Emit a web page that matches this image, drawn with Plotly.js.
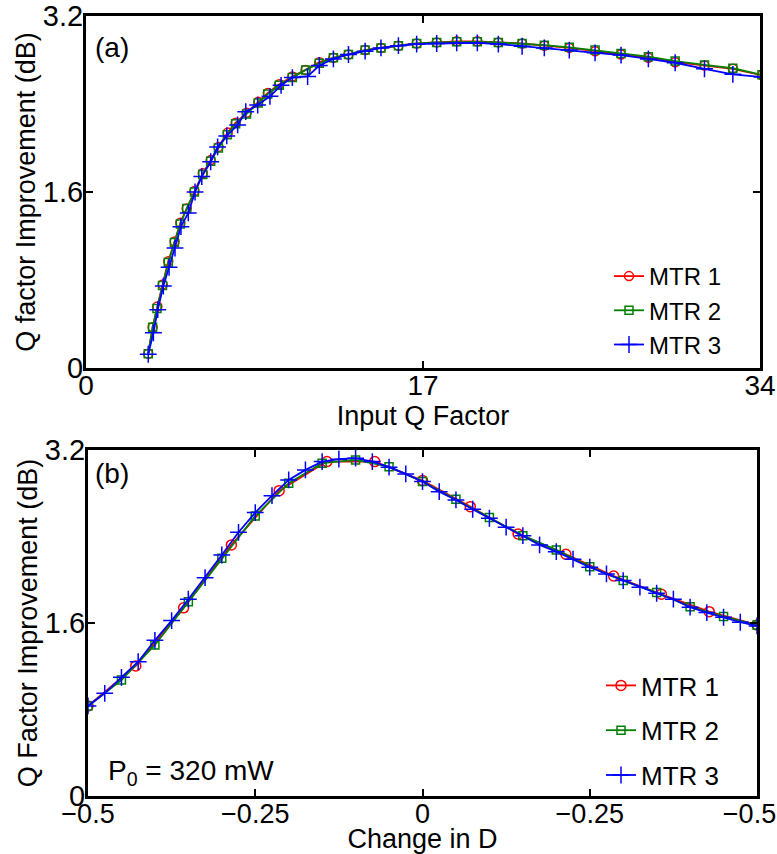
<!DOCTYPE html>
<html>
<head>
<meta charset="utf-8">
<script src="https://cdn.plot.ly/plotly-3.0.1.min.js"></script>
<style>html,body{margin:0;padding:0;background:#fff;}#chart{width:777px;height:854px;}</style>
</head>
<body>
<div id="chart"></div>
<script>
// ---------- Panel (a): Q factor improvement vs input Q factor ----------
var a_mtr1_x = [3.14, 3.36, 3.6, 3.87, 4.15, 4.47, 4.76, 5.08, 5.47, 5.89, 6.29, 6.68, 7.15, 7.55, 8.1, 8.69, 9.17, 9.75, 10.41, 11.08, 11.77, 12.48, 13.24, 14.08, 14.88, 15.76, 16.68, 17.69, 18.7, 19.74, 20.8, 22.0, 23.12, 24.38, 25.68, 26.99, 28.37, 29.72, 31.2, 32.63, 34.1];
var a_mtr1_y = [0.13, 0.37, 0.56, 0.76, 0.97, 1.15, 1.32, 1.45, 1.61, 1.77, 1.89, 2.01, 2.14, 2.23, 2.32, 2.42, 2.50, 2.58, 2.65, 2.71, 2.78, 2.82, 2.85, 2.89, 2.91, 2.93, 2.95, 2.96, 2.97, 2.97, 2.96, 2.95, 2.93, 2.91, 2.88, 2.85, 2.82, 2.78, 2.75, 2.72, 2.66];
var a_mtr2_x = [3.14, 3.36, 3.58, 3.86, 4.15, 4.46, 4.76, 5.08, 5.47, 5.89, 6.29, 6.68, 7.13, 7.55, 8.1, 8.69, 9.17, 9.75, 10.41, 11.08, 11.77, 12.48, 13.24, 14.08, 14.88, 15.76, 16.68, 17.69, 18.7, 19.74, 20.8, 22.0, 23.12, 24.38, 25.68, 26.99, 28.37, 29.72, 31.2, 32.63, 34.1];
var a_mtr2_y = [0.13, 0.37, 0.54, 0.75, 0.96, 1.14, 1.31, 1.45, 1.60, 1.76, 1.88, 2.00, 2.12, 2.22, 2.31, 2.41, 2.49, 2.57, 2.64, 2.71, 2.77, 2.82, 2.85, 2.89, 2.91, 2.93, 2.95, 2.96, 2.965, 2.965, 2.96, 2.95, 2.935, 2.915, 2.89, 2.86, 2.83, 2.79, 2.755, 2.725, 2.665];
var a_mtr3_x = [3.14, 3.4, 3.62, 3.9, 4.19, 4.49, 4.79, 5.16, 5.5, 5.84, 6.29, 6.64, 7.1, 7.65, 8.06, 8.66, 9.28, 9.84, 10.41, 11.18, 11.77, 12.48, 13.24, 14.08, 14.88, 15.76, 16.68, 17.69, 18.7, 19.74, 20.8, 22.0, 23.12, 24.38, 25.68, 26.99, 28.37, 29.72, 31.2, 32.63, 34.1];
var a_mtr3_y = [0.125, 0.32, 0.53, 0.745, 0.915, 1.09, 1.285, 1.41, 1.6, 1.74, 1.875, 2.01, 2.11, 2.21, 2.33, 2.39, 2.47, 2.57, 2.64, 2.65, 2.75, 2.81, 2.85, 2.88, 2.91, 2.93, 2.945, 2.95, 2.955, 2.955, 2.945, 2.925, 2.91, 2.89, 2.865, 2.845, 2.81, 2.775, 2.72, 2.67, 2.645];

// ---------- Panel (b): Q factor improvement vs change in D ----------
var b_mtr1_x = [-0.5, -0.4286, -0.3571, -0.2857, -0.2143, -0.1429, -0.0714, 0, 0.0714, 0.1429, 0.2143, 0.2857, 0.3571, 0.4286, 0.5];
var b_mtr1_y = [0.833, 1.203, 1.74, 2.322, 2.824, 3.093, 3.093, 2.917, 2.676, 2.424, 2.236, 2.035, 1.866, 1.705, 1.582];
var b_mtr2_x = [-0.5, -0.45, -0.4, -0.35, -0.3, -0.25, -0.2, -0.15, -0.1, -0.05, 0, 0.05, 0.1, 0.15, 0.2, 0.25, 0.3, 0.35, 0.4, 0.45, 0.5];
var b_mtr2_y = [0.833, 1.073, 1.397, 1.797, 2.199, 2.59, 2.893, 3.078, 3.108, 3.046, 2.908, 2.745, 2.575, 2.408, 2.276, 2.121, 1.992, 1.881, 1.751, 1.659, 1.582];
var b_mtr3_x = [-0.5, -0.475, -0.45, -0.425, -0.4, -0.375, -0.35, -0.325, -0.3, -0.275, -0.25, -0.225, -0.2, -0.175, -0.15, -0.125, -0.1, -0.075, -0.05, -0.025, 0, 0.025, 0.05, 0.075, 0.1, 0.125, 0.15, 0.175, 0.2, 0.225, 0.25, 0.275, 0.3, 0.325, 0.35, 0.375, 0.4, 0.425, 0.45, 0.475, 0.5];
var b_mtr3_y = [0.833, 0.95, 1.098, 1.242, 1.44, 1.622, 1.82, 2.019, 2.229, 2.439, 2.621, 2.778, 2.923, 3.016, 3.093, 3.115, 3.124, 3.093, 3.041, 2.979, 2.908, 2.815, 2.738, 2.652, 2.569, 2.486, 2.408, 2.322, 2.26, 2.19, 2.116, 2.054, 1.992, 1.931, 1.875, 1.82, 1.746, 1.696, 1.653, 1.607, 1.573];

var a_xticks = [0, 17, 34];
var y_ticks = [0, 1.6, 3.2];
var y_ticktext = ['0', '1.6', '3.2'];
var b_xtickvals = [-0.5, -0.25, 0, 0.25, 0.5];
var b_xticktext = ['\u22120.5', '\u22120.25', '0', '\u22120.25', '\u22120.5\u00a0\u00a0'];
var seriesNames = ['MTR 1', 'MTR 2', 'MTR 3'];

var RED = '#ff0000', GREEN = '#008000', BLUE = '#0000ff';
var FONT = 'Liberation Sans, Arial, sans-serif';

function mk(x, y, name, color, symbol, size, xa, ya, leg, grp) {
  return {
    x: x, y: y, name: name, type: 'scatter', mode: 'lines+markers',
    xaxis: xa, yaxis: ya, legend: leg, legendgroup: grp,
    line: {color: color, width: 1.8},
    marker: {symbol: symbol, size: size, color: color, line: {color: color, width: 1.5}}
  };
}

var traces = [
  mk(a_mtr1_x, a_mtr1_y, seriesNames[0], RED, 'circle-open', 9, 'x', 'y', 'legend', 'a1'),
  mk(a_mtr2_x, a_mtr2_y, seriesNames[1], GREEN, 'square-open', 8, 'x', 'y', 'legend', 'a2'),
  mk(a_mtr3_x, a_mtr3_y, seriesNames[2], BLUE, 'cross-thin-open', 12, 'x', 'y', 'legend', 'a3'),
  mk(b_mtr1_x, b_mtr1_y, seriesNames[0], RED, 'circle-open', 10, 'x2', 'y2', 'legend2', 'b1'),
  mk(b_mtr2_x, b_mtr2_y, seriesNames[1], GREEN, 'square-open', 8, 'x2', 'y2', 'legend2', 'b2'),
  mk(b_mtr3_x, b_mtr3_y, seriesNames[2], BLUE, 'cross-thin-open', 12, 'x2', 'y2', 'legend2', 'b3')
];

var W = 777, H = 854;
function px(v) { return v / W; }
function py(v) { return 1 - v / H; }

var axisBase = {
  showline: true, linewidth: 3, linecolor: '#000', mirror: 'ticks',
  ticks: 'inside', ticklen: 7, tickwidth: 2, tickcolor: '#000',
  showgrid: false, zeroline: false, automargin: false, fixedrange: true,
  ticklabeloverflow: 'allow'
};
function ax(extra) { return Object.assign({}, axisBase, extra); }

var layout = {
  width: W, height: H,
  margin: {l: 0, r: 0, t: 0, b: 0},
  paper_bgcolor: '#fff', plot_bgcolor: '#fff',
  font: {family: FONT, color: '#000'},
  showlegend: true,
  xaxis: ax({
    domain: [px(86), px(760)], range: [0, 34], tickvals: a_xticks,
    tickfont: {size: 28, family: FONT}, anchor: 'y', ticklabelstandoff: -10,
    title: {text: 'Input Q Factor', font: {size: 27, family: FONT}, standoff: 0}
  }),
  yaxis: ax({
    domain: [py(368), py(16)], range: [0, 3.2], tickvals: y_ticks, ticktext: y_ticktext,
    tickfont: {size: 29, family: FONT}, anchor: 'x', ticklabelstandoff: -6,
    title: {text: 'Q factor Improvement (dB)', font: {size: 27, family: FONT}, standoff: 0}
  }),
  xaxis2: ax({
    domain: [px(88), px(757)], range: [-0.5, 0.5], tickvals: b_xtickvals, ticktext: b_xticktext,
    tickfont: {size: 27, family: FONT}, anchor: 'y2', ticklabelstandoff: -8,
    title: {text: 'Change in D', font: {size: 27, family: FONT}, standoff: 4}
  }),
  yaxis2: ax({
    domain: [py(796), py(450)], range: [0, 3.2], tickvals: y_ticks, ticktext: y_ticktext,
    tickfont: {size: 29, family: FONT}, anchor: 'x2', ticklabelstandoff: -6,
    title: {text: 'Q Factor Improvement (dB)', font: {size: 27, family: FONT}, standoff: 0}
  }),
  legend: {
    x: px(609), y: py(254), xanchor: 'left', yanchor: 'top',
    bgcolor: 'rgba(0,0,0,0)', borderwidth: 0, tracegroupgap: 0,
    font: {size: 24, family: FONT}
  },
  legend2: {
    x: px(601), y: py(662), xanchor: 'left', yanchor: 'top',
    bgcolor: 'rgba(0,0,0,0)', borderwidth: 0, tracegroupgap: 8,
    font: {size: 26, family: FONT}
  },
  annotations: [
    {xref: 'paper', yref: 'paper', x: px(112), y: py(48), text: '(a)', showarrow: false,
     font: {size: 28, family: FONT}, xanchor: 'center', yanchor: 'middle'},
    {xref: 'paper', yref: 'paper', x: px(112), y: py(474), text: '(b)', showarrow: false,
     font: {size: 28, family: FONT}, xanchor: 'center', yanchor: 'middle'},
    {xref: 'paper', yref: 'paper', x: px(106), y: py(772), text: 'P<sub>0</sub> = 320 mW', showarrow: false,
     font: {size: 28, family: FONT}, xanchor: 'left', yanchor: 'middle'}
  ]
};

Plotly.newPlot('chart', traces, layout, {displayModeBar: false, staticPlot: true});
</script>
</body>
</html>
